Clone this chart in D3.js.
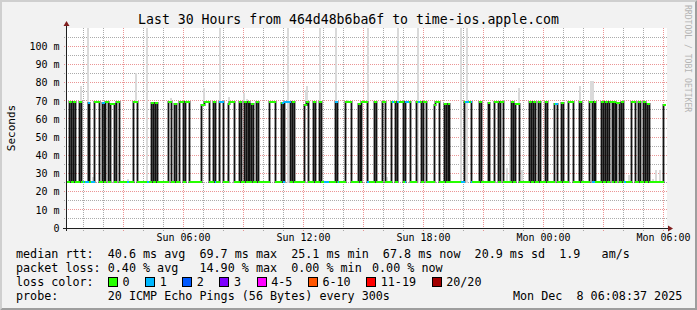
<!DOCTYPE html>
<html>
<head>
<meta charset="utf-8">
<script src="https://cdn.jsdelivr.net/npm/d3@7"></script>
<style>
body { margin: 0; background: #f2f2f2; }
text { font-family: "DejaVu Sans Mono", monospace; }
</style>
</head>
<body>
<svg width="697" height="310"></svg>
<script>
// time window of the graph (30 hours)
var startTime = new Date(2025, 11, 7, 0, 10, 30);
var endTime = new Date(2025, 11, 8, 6, 10, 30);
var dataEnd = 1794;          // minutes after start where data stops
var lowMs = 25.4;            // median rtt in the "low" state

// periods where the median sits high: [startMin, endMin, ms]
var highSpans = [
  [6,12,69.4],[19,24,69.4],[37,43,69.4],[63,67,69.0],[81,97,69.4],[104,110,69.0],
  [114,124,69.4],[130,142,68.1],[148,157,69.4],[199,209,69.4],[253,259,68.6],[265,269,68.6],
  [303,313,69.4],[322,328,68.1],[337,347,69.4],[353,365,69.4],[403,410,67.6],[410,425,69.4],
  [437,443,69.4],[456,469,69.4],[483,487,68.1],[487,502,69.4],[517,523,69.4],[531,537,69.4],
  [543,547,69.4],[553,559,68.1],[567,574,69.4],[607,623,69.4],[643,649,68.5],[652,669,69.4],
  [675,681,69.4],[712,716,67.6],[716,723,69.4],[737,743,69.4],[755,763,69.4],[803,809,69.4],
  [835,853,69.4],[873,879,68.1],[883,899,69.4],[921,927,69.4],[945,953,69.4],[973,983,69.4],
  [991,1009,69.4],[1015,1029,69.4],[1047,1063,69.4],[1067,1077,69.4],[1101,1105,67.6],[1105,1115,69.4],
  [1131,1137,68.1],[1143,1147,68.1],[1191,1213,69.4],[1237,1243,69.4],[1263,1267,68.8],[1281,1293,69.4],
  [1299,1307,69.4],[1333,1339,69.4],[1343,1357,68.1],[1387,1393,69.4],[1399,1403,69.4],[1413,1419,69.4],
  [1433,1439,69.4],[1461,1469,68.1],[1483,1489,68.8],[1503,1519,69.4],[1537,1543,69.4],[1567,1574,69.4],
  [1580,1584,69.4],[1603,1609,69.4],[1615,1619,69.4],[1627,1635,69.4],[1639,1643,69.4],[1647,1657,69.0],
  [1663,1669,69.4],[1693,1703,69.4],[1713,1719,69.4],[1729,1735,69.4],[1739,1745,68.1],[1789,1794,67.8]
];

// periods with 1 lost ping out of 20: [startMin, endMin]
var loss1Spans = [
  [47,50],[53,63],[63,67],[73,81],[104,110],[181,186],[240,246],[443,447],[456,469],[645,669],
  [771,786],[804,809],[813,816],[899,906],[975,981],[991,997],[1014,1026],[1053,1059],[1182,1191],
  [1194,1206],[1212,1214],[1464,1470],[1574,1580],[1671,1677]
];

// smoke (spread of the 20 pings): [minute, minMs, maxMs]
var smoke = [
  [63,25,120],[241,25,120],[460,25,120],[663,25,120],[759,25,120],[807,25,120],[903,25,120],
  [993,25,120],[1053,25,120],[1182,25,120],[1201,25,120],
  [43,25,78],[207,69,85],[312,69,71.5],[411,67,77],[486,68,72],[532,68,74],[540,69,71],
  [717,68,76],[721,68,78],[843,69,70.5],[1357,67,77],[1540,69,78],[1572,69,81],[1578,69,81],
  [78,25,28],[183,25,27],[483,25,30],[573,25,31],[960,25,28],[1149,25,29],[1321,25,33],
  [1330,25,50],[1365,25,32],[1686,25,29],[1758,25,27],[1767,25,32],[1779,25,32]
];

var yTicks = [0,10,20,30,40,50,60,70,80,90,100];
var lossLabels = ["0","1","2","3","4-5","6-10","11-19","20/20"];
var lossColors = ["#26ff00","#00b8ff","#0059ff","#7e00ff","#ff00ff","#ff5500","#ff0000","#a10000"];

var title = "Last 30 Hours from 464d48b6ba6f to time-ios.apple.com";
var legendRows = [
  ["median rtt:  40.6 ms avg  69.7 ms max  25.1 ms min  67.8 ms now  20.9 ms sd  1.9   am/s"],
  ["packet loss: 0.40 % avg   14.90 % max  0.00 % min", "0.00 % now"],
  ["loss color:"],
  ["probe:       20 ICMP Echo Pings (56 Bytes) every 300s", "Mon Dec  8 06:08:37 2025"]
];

window.onload = function(){
  var svg = d3.select("svg"),
      W = 697, H = 310,
      left = 67, top = 28, pw = 600, ph = 200;

  // background + 3D frame
  svg.append("rect").attr("width", W).attr("height", H).attr("fill", "#f2f2f2");
  svg.append("path").attr("fill", "#cfcfcf")
    .attr("d", "M0,0H" + W + "L" + (W-2) + ",2H2V" + (H-2) + "L0," + H + "Z");
  svg.append("path").attr("fill", "#9e9e9e")
    .attr("d", "M" + W + "," + H + "H0L2," + (H-2) + "H" + (W-2) + "V2L" + W + ",0Z");
  svg.append("rect").attr("x", left).attr("y", top).attr("width", pw).attr("height", ph).attr("fill", "#fff");

  var x = d3.scaleTime().domain([startTime, endTime]).range([left, left + pw]);
  var y = d3.scaleLinear().domain([0, 110]).range([top + ph, top]);
  var xm = function(m){ return Math.round(x(new Date(+startTime + m * 60000))) + 0.5; };
  var yr = function(v){ return Math.round(y(v)); };
  var crisp = function(v){ return Math.floor(v) + 0.5; };

  svg.append("defs").append("clipPath").attr("id", "clip")
    .append("rect").attr("x", left).attr("y", top).attr("width", pw).attr("height", ph);

  //grid
  var grid = svg.append("g").attr("shape-rendering", "crispEdges").attr("stroke-dasharray", "1,1");
  d3.range(5, 110, 5).forEach(function(v){
    grid.append("line")
      .attr("x1", left - 3).attr("x2", left + pw)
      .attr("y1", crisp(y(v))).attr("y2", crisp(y(v)))
      .attr("stroke", v % 10 == 0 ? "rgba(222,79,79,0.6)" : "rgba(143,143,143,0.75)");
  });
  var hours = d3.timeHour.every(1).range(startTime, endTime);
  hours.forEach(function(h){
    grid.append("line")
      .attr("x1", crisp(x(h))).attr("x2", crisp(x(h)))
      .attr("y1", top).attr("y2", top + ph + 3)
      .attr("stroke", h.getHours() % 3 == 0 ? "rgba(222,79,79,0.6)" : "rgba(143,143,143,0.75)");
  });

  var plot = svg.append("g").attr("clip-path", "url(#clip)");

  // smoke
  plot.selectAll(".smoke").data(smoke).enter().append("rect")
    .attr("x", function(d){ return xm(d[0]) - 1.5; })
    .attr("width", 2)
    .attr("y", function(d){ return yr(d[2]); })
    .attr("height", function(d){ return yr(d[1]) - yr(d[2]); })
    .attr("fill", "#dadada");

  // median line (dark), step shaped
  var pts = [[0, lowMs]];
  highSpans.forEach(function(d, i){
    var prev = highSpans[i-1], next = highSpans[i+1];
    if (!prev || prev[1] !== d[0]) pts.push([d[0], lowMs]);
    pts.push([d[0], d[2]], [d[1], d[2]]);
    if ((!next || next[0] !== d[1]) && d[1] < dataEnd) pts.push([d[1], lowMs]);
  });
  if (highSpans[highSpans.length-1][1] < dataEnd) pts.push([dataEnd, lowMs]);

  plot.append("path")
    .attr("d", d3.line().x(function(d){ return xm(d[0]); }).y(function(d){ return yr(d[1]); })(pts))
    .attr("fill", "none").attr("stroke", "#111").attr("stroke-width", 1.8);

  // loss coloured median segments
  function medianAt(m){
    for (var i = 0; i < highSpans.length; i++)
      if (m >= highSpans[i][0] && m < highSpans[i][1]) return highSpans[i][2];
    return lowMs;
  }
  function lossAt(m){
    for (var i = 0; i < loss1Spans.length; i++)
      if (m >= loss1Spans[i][0] && m < loss1Spans[i][1]) return 1;
    return 0;
  }
  var cuts = [0, dataEnd];
  highSpans.forEach(function(d){ cuts.push(d[0], d[1]); });
  loss1Spans.forEach(function(d){ cuts.push(d[0], d[1]); });
  cuts = Array.from(new Set(cuts)).filter(function(c){ return c <= dataEnd; }).sort(d3.ascending);
  var segs = [];
  for (var i = 0; i < cuts.length - 1; i++) {
    var mid = (cuts[i] + cuts[i+1]) / 2;
    segs.push({a: cuts[i], b: cuts[i+1], v: medianAt(mid), c: lossColors[lossAt(mid)]});
  }
  plot.append("g").attr("shape-rendering", "crispEdges")
    .selectAll(".seg").data(segs).enter().append("line")
    .attr("x1", function(d){ return xm(d.a) - 0.5; })
    .attr("x2", function(d){ return xm(d.b) + 0.5; })
    .attr("y1", function(d){ return yr(d.v); })
    .attr("y2", function(d){ return yr(d.v); })
    .attr("stroke", function(d){ return d.c; })
    .attr("stroke-width", 2);

  // axes
  svg.append("line").attr("x1", left - 4).attr("x2", left + pw + 2)
    .attr("y1", top + ph + 0.5).attr("y2", top + ph + 0.5)
    .attr("stroke", "#1f1f1f").attr("shape-rendering", "crispEdges");
  svg.append("line").attr("x1", left - 0.5).attr("x2", left - 0.5)
    .attr("y1", top + ph + 3).attr("y2", top - 4)
    .attr("stroke", "#1f1f1f").attr("shape-rendering", "crispEdges");
  svg.append("path").attr("fill", "#801f1f")
    .attr("d", "M" + (left + pw + 1) + "," + (top + ph - 2.5) + "L" + (left + pw + 6) + "," + (top + ph + 0.5) + "L" + (left + pw + 1) + "," + (top + ph + 3.5) + "Z");
  svg.append("path").attr("fill", "#801f1f")
    .attr("d", "M" + (left - 3.5) + "," + (top - 2) + "L" + (left - 0.5) + "," + (top - 7) + "L" + (left + 2.5) + "," + (top - 2) + "Z");

  // tick labels
  svg.append("g").selectAll("text").data(yTicks).enter().append("text")
    .attr("x", 59.5).attr("y", function(d){ return y(d) + 3.8; })
    .attr("text-anchor", "end").attr("font-size", "10px")
    .text(function(d){ return d === 0 ? "0" : d + " m"; });

  var fmt = d3.timeFormat("%a %H:%M");
  svg.append("g").selectAll("text")
    .data(hours.filter(function(h){ return h.getHours() % 6 == 0; }))
    .enter().append("text")
    .attr("x", function(d){ return x(d); }).attr("y", 240.5)
    .attr("text-anchor", "middle").attr("font-size", "10px")
    .text(fmt);

  // titles
  svg.append("text").attr("x", 348.5).attr("y", 24)
    .attr("text-anchor", "middle").attr("font-size", "13.2px").text(title);
  svg.append("text").attr("transform", "translate(15," + (top + ph / 2) + ") rotate(-90)")
    .attr("text-anchor", "middle").attr("font-size", "11px").text("Seconds");
  svg.append("text").attr("transform", "translate(685,5) rotate(90)")
    .attr("font-size", "8.1px").attr("fill", "#b4b4b4").text("RRDTOOL / TOBI OETIKER");

  // legend
  var rowY = [258.4, 272.2, 286, 300];
  var secondX = [0, 372, 0, 513];
  legendRows.forEach(function(r, i){
    svg.append("text").attr("x", 16).attr("y", rowY[i])
      .attr("font-size", "11.73px").style("white-space", "pre").text(r[0]);
    if (r[1]) svg.append("text").attr("x", secondX[i]).attr("y", rowY[i])
      .attr("font-size", "11.73px").style("white-space", "pre").text(r[1]);
  });
  var bx = 108;
  lossLabels.forEach(function(l, i){
    svg.append("rect").attr("x", bx + 0.5).attr("y", 277.5).attr("width", 9).attr("height", 9)
      .attr("fill", lossColors[i]).attr("stroke", "#000").attr("shape-rendering", "crispEdges");
    svg.append("text").attr("x", bx + 14.5).attr("y", rowY[2])
      .attr("font-size", "11.73px").text(l);
    bx = bx + 14.5 + l.length * 7.06 + 15.6;
  });
};
</script>
</body>
</html>
